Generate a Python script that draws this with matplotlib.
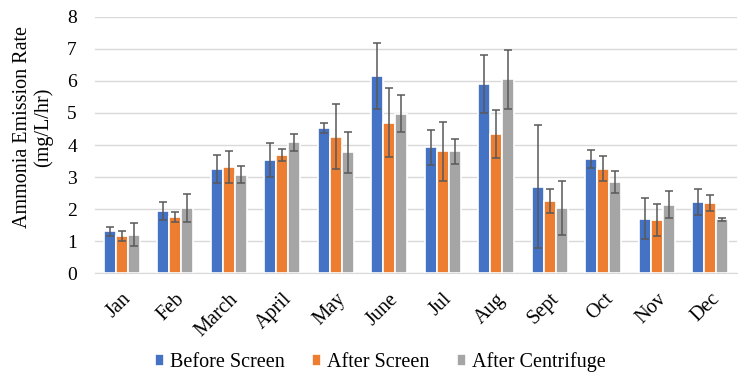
import matplotlib
matplotlib.use("Agg")
import matplotlib.pyplot as plt
import numpy as np

months = ["Jan", "Feb", "March", "April", "May", "June", "Jul", "Aug", "Sept", "Oct", "Nov", "Dec"]
before_screen = [1.31, 1.94, 3.25, 3.52, 4.53, 6.16, 3.93, 5.90, 2.70, 3.57, 1.70, 2.22]
before_err = [0.14, 0.28, 0.44, 0.53, 0.17, 1.03, 0.55, 0.90, 1.93, 0.28, 0.65, 0.40]
after_screen = [1.16, 1.75, 3.31, 3.68, 4.26, 4.70, 3.81, 4.33, 2.24, 3.26, 1.66, 2.20]
after_screen_err = [0.15, 0.16, 0.51, 0.19, 1.02, 1.08, 0.92, 0.75, 0.38, 0.40, 0.51, 0.25]
after_centrifuge = [1.20, 2.04, 3.07, 4.08, 3.77, 4.98, 3.81, 6.05, 2.04, 2.85, 2.14, 1.68]
after_centrifuge_err = [0.35, 0.44, 0.26, 0.27, 0.65, 0.57, 0.39, 0.93, 0.84, 0.35, 0.41, 0.04]
y_ticks = [0, 1, 2, 3, 4, 5, 6, 7, 8]

series = [
    ("Before Screen", before_screen, before_err, "#4472C4"),
    ("After Screen", after_screen, after_screen_err, "#ED7D31"),
    ("After Centrifuge", after_centrifuge, after_centrifuge_err, "#A5A5A5"),
]

plt.rcParams['font.family'] = ['Liberation Serif', 'DejaVu Serif']

fig = plt.figure(figsize=(7.5, 3.86), dpi=100)
ax = fig.add_axes([0.1267, 0.2927, 0.856, 0.6633])

x = np.arange(len(months))
step = 0.224
handles = []
for i, (name, vals, errs, col) in enumerate(series):
    b = ax.bar(x + (i - 1) * step, vals, width=step, color=col, edgecolor='white',
               linewidth=1.2, label=name, zorder=2,
               yerr=errs, error_kw=dict(ecolor='#595959', elinewidth=1.1, capsize=3, capthick=1.1, zorder=3))
    handles.append(b)

ax.set_xlim(-0.5, len(months) - 0.5)
ax.set_ylim(0, 8)
ax.set_yticks(y_ticks)
ax.set_yticklabels([str(t) for t in y_ticks], fontsize=14)
ax.yaxis.grid(True, color='#D9D9D9', linewidth=1.0, zorder=0)
ax.set_axisbelow(True)
for s in ['left', 'right', 'top']:
    ax.spines[s].set_visible(False)
ax.spines['bottom'].set_color('#D9D9D9')
ax.tick_params(axis='y', length=0, pad=13)
ax.tick_params(axis='x', length=0, pad=12)
ax.set_xticks(x)
ax.set_xticklabels(months, fontsize=14.5, rotation=45, ha='right', rotation_mode='anchor')

fig.text(0.044, 0.671, "Ammonia Emission Rate\n(mg/L/hr)", rotation=90, ha='center', va='center',
         fontsize=14.5, linespacing=1.15, multialignment='center')

fig.legend(handles=handles, labels=[s[0] for s in series], loc='center',
           bbox_to_anchor=(0.507, 0.062), ncol=3, frameon=False, fontsize=14.5,
           handlelength=0.45, handleheight=0.5, handletextpad=0.3, columnspacing=1.35)

fig.savefig("out.png", dpi=100)
